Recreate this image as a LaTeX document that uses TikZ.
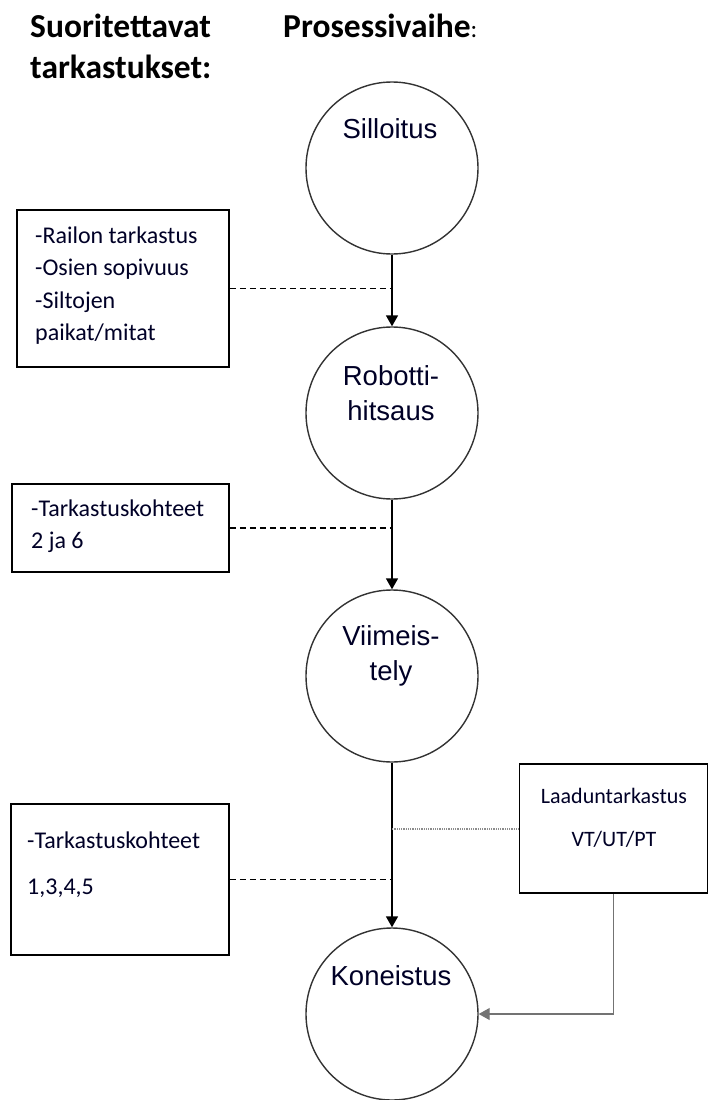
\documentclass[tikz,border=0pt]{standalone}
\usepackage{fontspec}
\setmainfont{Carlito}
\newfontfamily\arialf{Liberation Sans}
\usetikzlibrary{arrows.meta}
\begin{document}
\begin{tikzpicture}[x=1pt,y=-1pt,
  stage/.style={draw=black!80,line width=1.4pt,circle,minimum size=172pt,inner sep=0pt},
  ctext/.style={font=\arialf\fontsize{27.5}{31}\selectfont,anchor=base,inner sep=0pt,text=black!85!blue},
  infobox/.style={draw=black,line width=1.5pt,rectangle,inner sep=0pt},
  btext/.style={font=\fontsize{24}{28}\selectfont,anchor=base west,inner sep=0pt,text=black!85!blue},
  head/.style={font=\bfseries\fontsize{33.5}{38}\selectfont,anchor=base west,inner sep=0pt},
  flow/.style={line width=1.6pt,-{Triangle[length=11pt,width=12pt]}},
  link/.style={line width=1.5pt,dash pattern=on 6pt off 4pt},
  qlink/.style={draw=black!55,line width=1.2pt},
]
\useasboundingbox (0,0) rectangle (708,1100);
% headings
\node[head] (h1) at (30,37) {Suoritettavat};
\node[head] (h2) at (30,78) {tarkastukset:};
\node[head] (h3) at (283,37) {Prosessivaihe\normalfont\fontsize{25}{28}\selectfont:};
% stages
\node[stage] (c1) at (392,168) {};
\node[stage] (c2) at (392,413) {};
\node[stage] (c3) at (392,676) {};
\node[stage] (c4) at (392,1014) {};
\node[ctext] (t1) at (390,138) {Silloitus};
\node[ctext] (t2a) at (391,385) {Robotti-};
\node[ctext] (t2b) at (391,420) {hitsaus};
\node[ctext] (t3a) at (391,645) {Viimeis-};
\node[ctext] (t3b) at (391,680) {tely};
\node[ctext] (t4) at (391,985) {Koneistus};
% boxes
\node[infobox,minimum width=212pt,minimum height=157pt] (b1) at (123,288.5) {};
\node[infobox,minimum width=217pt,minimum height=88pt] (b2) at (120.5,528) {};
\node[infobox,minimum width=218pt,minimum height=151pt] (b3) at (120,879.5) {};
\node[infobox,minimum width=188pt,minimum height=129pt] (b4) at (613.5,828.5) {};
\node[btext] (b1l1) at (35,243) {-Railon tarkastus};
\node[btext] (b1l2) at (35,275) {-Osien sopivuus};
\node[btext] (b1l3) at (35,308) {-Siltojen};
\node[btext] (b1l4) at (35,340) {paikat/mitat};
\node[btext] (b2l1) at (31,516) {-Tarkastuskohteet};
\node[btext] (b2l2) at (31,548) {2 ja 6};
\node[btext] (b3l1) at (27,848) {-Tarkastuskohteet};
\node[btext] (b3l2) at (27,894) {1,3,4,5};
\node[btext,anchor=base,font=\fontsize{22}{26}\selectfont] (b4l1) at (614,803) {Laaduntarkastus};
\node[btext,anchor=base,font=\fontsize{22}{26}\selectfont] (b4l2) at (614,846) {VT/UT/PT};
% flow arrows
\draw[flow] (c1.south) -- (c2.north);
\draw[flow] (c2.south) -- (c3.north);
\draw[flow] (c3.south) -- (c4.north);
% dashed links
\draw[link] (b1.east) -- (b1.east -| c1.south);
\draw[link] (b2.east) -- (b2.east -| c2.south);
\draw[link] (b3.east) -- (b3.east -| c3.south);
\draw[draw=black!45,line width=2pt,dash pattern=on 1pt off 0.8pt] (b4.west) -- (b4.west -| c3.south);
% quality control link
\coordinate (q) at (b4.south |- c4.east);
\draw[qlink,-{Triangle[length=11pt,width=12pt]}] (b4.south) -- (q) -- (c4.east);
\end{tikzpicture}
\end{document}
